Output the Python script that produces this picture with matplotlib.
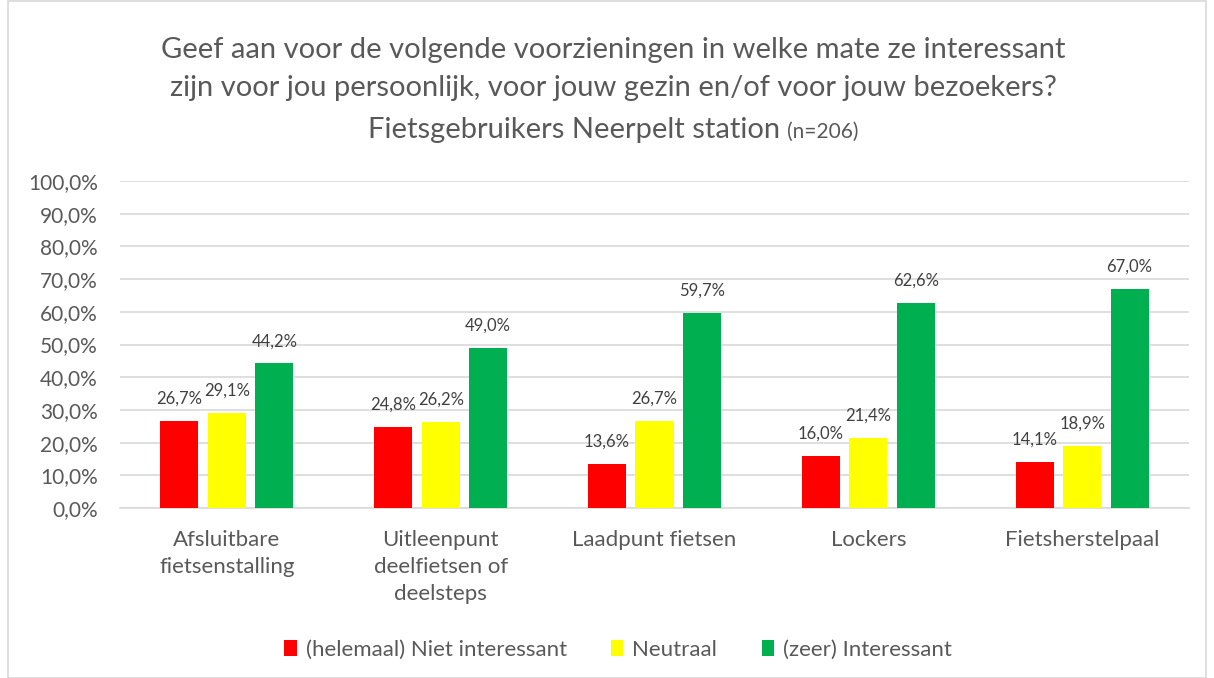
import numpy as np
import matplotlib.pyplot as plt
from matplotlib.patches import Rectangle
from matplotlib.ticker import FuncFormatter

plt.rcParams['font.family'] = ['Lato', 'DejaVu Sans']

# Data
categories = ['Afsluitbare\nfietsenstalling', 'Uitleenpunt\ndeelfietsen of\ndeelsteps',
              'Laadpunt fietsen', 'Lockers', 'Fietsherstelpaal']
niet = [26.7, 24.8, 13.6, 16.0, 14.1]
neutraal = [29.1, 26.2, 26.7, 21.4, 18.9]
interessant = [44.2, 49.0, 59.7, 62.6, 67.0]
series_names = ['(helemaal) Niet interessant', 'Neutraal', '(zeer) Interessant']
colors = ['#ff0000', '#ffff00', '#00b050']
text_col = '#595959'

fig = plt.figure(figsize=(12.14, 6.78), dpi=100)
ax = fig.add_axes([120 / 1214, 1 - 508 / 678, 1069 / 1214, 327 / 678])

x = np.arange(len(categories))
width = 0.178
step = 0.222
for i, (vals, name, col) in enumerate(zip([niet, neutraal, interessant], series_names, colors)):
    bars = ax.bar(x + (i - 1) * step, vals, width, color=col, label=name, zorder=3)
    for b, v in zip(bars, vals):
        ax.annotate(f'{v:.1f}%'.replace('.', ','), (b.get_x() + b.get_width() / 2, v),
                    xytext=(0, 16), textcoords='offset points',
                    ha='center', va='center', fontsize=12, color='#404040')

ax.set_xlim(-0.5, len(categories) - 0.5)
ax.set_ylim(0, 100)
ax.set_yticks(np.arange(0, 101, 10))
ax.yaxis.set_major_formatter(FuncFormatter(lambda v, p: f'{v:.1f}%'.replace('.', ',')))
ax.set_xticks(x)
ax.set_xticklabels(categories, fontsize=16, color=text_col, va='top', linespacing=1.42)
ax.tick_params(axis='y', labelsize=15, labelcolor=text_col, length=0, pad=16)
ax.tick_params(axis='x', length=0, pad=16)
ax.grid(axis='y', color='#d9d9d9', linewidth=1.2, zorder=0)
for s in ['top', 'right', 'left']:
    ax.spines[s].set_visible(False)
ax.spines['bottom'].set_color('#d9d9d9')
ax.spines['bottom'].set_linewidth(1.2)

# title
cx = 0.505
fig.text(cx, 1 - 50 / 678, 'Geef aan voor de volgende voorzieningen in welke mate ze interessant',
         ha='center', va='center', fontsize=21, color=text_col)
fig.text(cx, 1 - 88 / 678, 'zijn voor jou persoonlijk, voor jouw gezin en/of voor jouw bezoekers?',
         ha='center', va='center', fontsize=21, color=text_col)
t1 = fig.text(0, 1 - 130 / 678, 'Fietsgebruikers Neerpelt station ', ha='left', va='center',
              fontsize=21, color=text_col)
t2 = fig.text(0, 1 - 132 / 678, '(n=206)', ha='left', va='center', fontsize=15, color=text_col)
fig.canvas.draw()
r = fig.canvas.get_renderer()
w1 = t1.get_window_extent(r).width / fig.bbox.width
w2 = t2.get_window_extent(r).width / fig.bbox.width
start = cx - (w1 + w2) / 2
t1.set_x(start)
t2.set_x(start + w1)

leg = fig.legend(loc='center', bbox_to_anchor=(618 / 1214, 1 - 650 / 678), ncol=3, frameon=False,
                 fontsize=16, handlelength=0.55, handleheight=0.75, columnspacing=2.0,
                 handletextpad=0.4)
for t in leg.get_texts():
    t.set_color(text_col)

fig.patches.append(Rectangle((8 / 1214, 0), 1198 / 1214, 0.998, transform=fig.transFigure,
                             fill=False, edgecolor='#d9d9d9', linewidth=1.2))

fig.savefig('out.png', dpi=100)
